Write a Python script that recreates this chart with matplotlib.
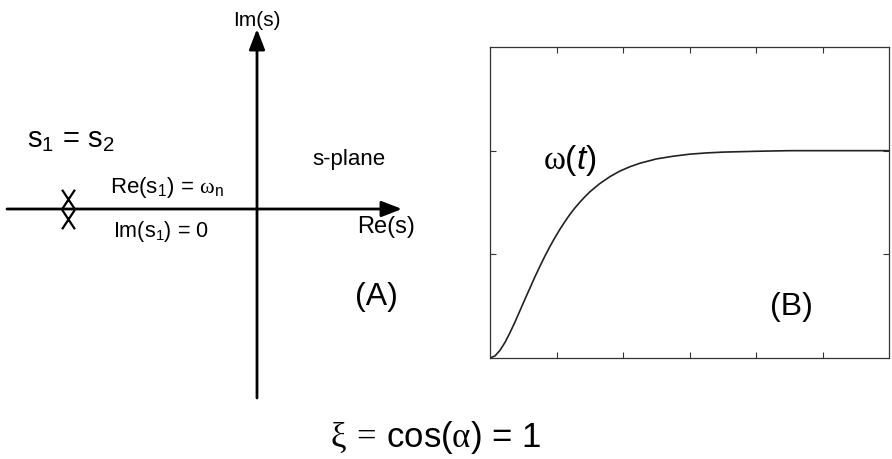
import matplotlib
matplotlib.use("Agg")
import matplotlib.pyplot as plt
from matplotlib.path import Path
from matplotlib import transforms

plt.rcParams["font.family"] = ["Liberation Sans", "DejaVu Sans"]
plt.rcParams["mathtext.fontset"] = "custom"
plt.rcParams["mathtext.rm"] = "Liberation Sans"
plt.rcParams["mathtext.it"] = "Liberation Sans:italic"
plt.rcParams["mathtext.bf"] = "Liberation Serif"

# --- data -------------------------------------------------------------
# double real pole (s1 = s2) of the critically damped system
poles_re = [-1.0, -1.0]
poles_im = [0.0, 0.0]

# step response omega(t) of the critically damped system
t_vals = [0, 0.15, 0.3, 0.45, 0.6, 0.75, 0.9, 1.05, 1.2, 1.35, 1.5, 1.65,
          1.8, 1.95, 2.1, 2.25, 2.4, 2.55, 2.7, 2.85, 3.0, 3.3, 3.6, 3.9,
          4.2, 4.5, 5.0, 5.5, 6.0, 6.5, 7.0, 8.0, 9.0, 10.0, 11.0, 12.0]
w_vals = [0, 0.010, 0.037, 0.075, 0.122, 0.173, 0.228, 0.283, 0.337, 0.391,
          0.442, 0.491, 0.537, 0.580, 0.620, 0.657, 0.692, 0.723, 0.751,
          0.777, 0.801, 0.841, 0.874, 0.901, 0.922, 0.939, 0.960, 0.973,
          0.983, 0.989, 0.993, 0.997, 1.0, 1.0, 1.0, 1.0]
x_ticks = [2, 4, 6, 8, 10]
y_ticks = [0.5, 1.0]

W, H = 892, 459
fig = plt.figure(figsize=(W / 100, H / 100), dpi=100)
fig.patch.set_facecolor("white")


def fx(px):
    return px / W


def fy(py):
    return 1 - py / H


# --- panel A: s-plane -------------------------------------------------
# axes spans the left part of the figure; one data unit = 189 px
unit = 189.0
axA = fig.add_axes([0, 0, fx(446), 1])
axA.set_xlim(-257 / unit, (446 - 257) / unit)
axA.set_ylim(-(H - 209) / unit, 209 / unit)
axA.axis("off")

arrow_kw = dict(arrowstyle="-|>,head_length=0.62,head_width=0.24",
                lw=2.0, color="black", mutation_scale=20,
                shrinkA=0, shrinkB=0)
# real axis
axA.annotate("", xy=((402 - 257) / unit, 0), xytext=((7 - 257) / unit, 0),
             arrowprops=arrow_kw)
# imaginary axis
axA.annotate("", xy=(0, (209 - 29) / unit), xytext=(0, (209 - 398) / unit),
             arrowprops=arrow_kw)

# tall "X" pole marker
xmark = Path([(-0.33, -0.5), (0.33, 0.5), (-0.33, 0.5), (0.33, -0.5)],
             [Path.MOVETO, Path.LINETO, Path.MOVETO, Path.LINETO])
offsets = [7, -7]  # the two coincident poles drawn slightly apart
for re_, im_, dy in zip(poles_re, poles_im, offsets):
    tr = transforms.offset_copy(axA.transData, fig=fig, x=0, y=dy, units="points")
    axA.plot([re_], [im_], marker=xmark, markersize=14, markeredgewidth=1.6,
             color="black", linestyle="none", transform=tr)

fig.text(fx(27), fy(140), r"s$_1$ = s$_2$", fontsize=21, ha="left", va="center")
fig.text(fx(110), fy(187), r"Re(s$_1$) = $\mathbf{\omega}_{\mathrm{n}}$",
         fontsize=16, ha="left", va="center")
fig.text(fx(113), fy(232), r"Im(s$_1$) = 0", fontsize=15.5, ha="left", va="center")
fig.text(fx(312), fy(160), "s-plane", fontsize=16, ha="left", va="center")
fig.text(fx(357), fy(227), "Re(s)", fontsize=17, ha="left", va="center")
fig.text(fx(233), fy(20), "Im(s)", fontsize=15, ha="left", va="center")
fig.text(fx(355), fy(297), "(A)", fontsize=23, ha="left", va="center")

# --- panel B: time response --------------------------------------------
axB = fig.add_axes([fx(490), fy(358), fx(889 - 490), (358 - 47) / H])
axB.plot(t_vals, w_vals, color="#222222", lw=1.2)
axB.set_xlim(0, 12)
axB.set_ylim(0, 1.5)
axB.set_xticks(x_ticks)
axB.set_yticks(y_ticks)
axB.tick_params(direction="in", length=4, width=0.8, top=True, right=True,
                labelbottom=False, labelleft=False, colors="#333333")
for sp in axB.spines.values():
    sp.set_linewidth(0.9)
    sp.set_color("#333333")

fig.text(fx(543), fy(160), r"$\mathbf{\omega}$($\mathit{t}$)", fontsize=24,
         ha="left", va="center")
fig.text(fx(770), fy(307), "(B)", fontsize=23, ha="left", va="center")

# --- caption -------------------------------------------------------------
fig.text(fx(435), fy(437),
         r"$\mathbf{\xi}\,\mathbf{=}\,$cos($\mathbf{\alpha}$) = 1",
         fontsize=25, ha="center", va="center")

fig.savefig("out.png", dpi=100, facecolor="white")
